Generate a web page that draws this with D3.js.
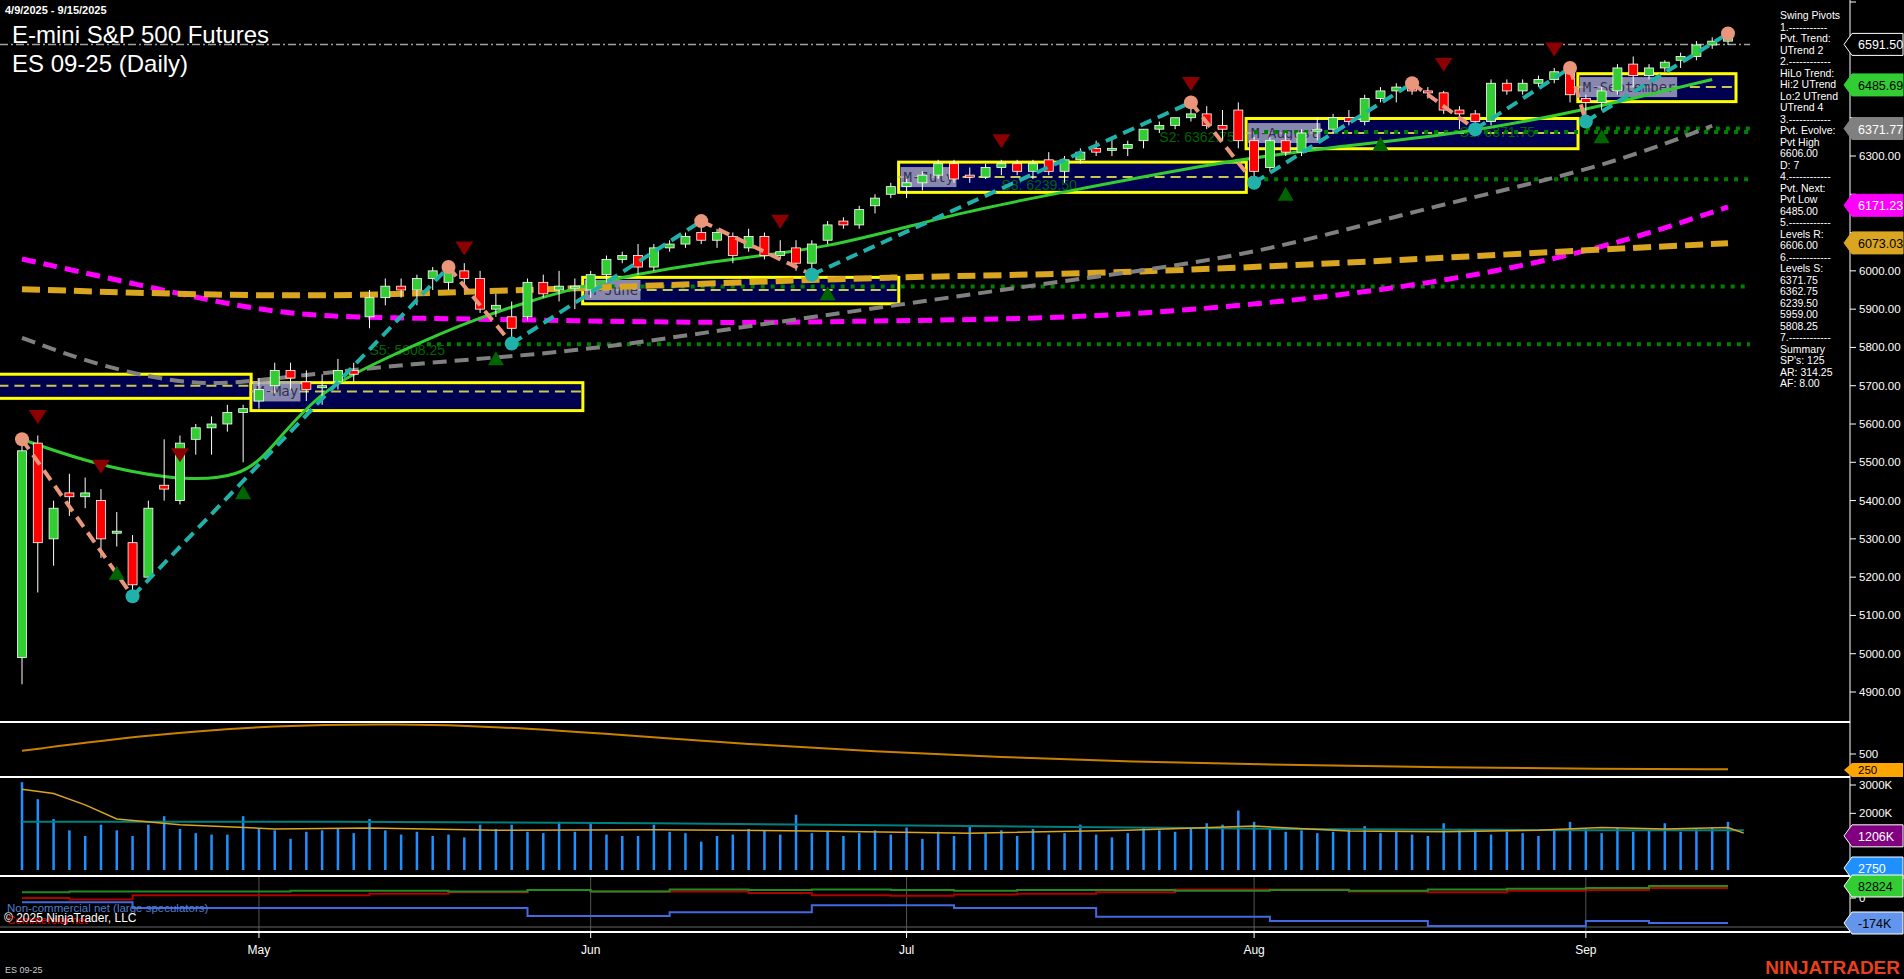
<!DOCTYPE html>
<html><head><meta charset="utf-8">
<script src="https://cdn.jsdelivr.net/npm/d3@7"></script>
<style>body{margin:0;background:#000;overflow:hidden}svg{display:block;font-family:"Liberation Sans",Arial,sans-serif}</style>
</head><body><div id="chart"></div>
<script>
// daily bars 4/9/2025 - 9/15/2025  [date, open, high, low, close]
const bars = [
["04-09",4990,5560,4920,5530],["04-10",5550,5570,5160,5290],["04-11",5300,5400,5230,5380],["04-14",5420,5470,5360,5410],
["04-15",5410,5460,5380,5420],["04-16",5400,5430,5250,5300],["04-17",5320,5370,5280,5320],["04-21",5290,5310,5150,5180],
["04-22",5200,5400,5190,5380],["04-23",5440,5560,5400,5430],["04-24",5400,5570,5390,5550],["04-25",5560,5600,5520,5590],
["04-28",5590,5620,5520,5600],["04-29",5600,5650,5580,5630],["04-30",5630,5650,5500,5640],
["05-01",5660,5720,5640,5690],["05-02",5700,5760,5680,5740],["05-05",5740,5760,5690,5720],["05-06",5710,5740,5660,5690],
["05-07",5700,5730,5650,5700],["05-08",5710,5770,5690,5740],["05-09",5740,5760,5710,5730],["05-12",5880,5950,5850,5930],
["05-13",5930,5980,5910,5960],["05-14",5960,5980,5930,5950],["05-15",5950,5990,5910,5980],["05-16",5980,6010,5950,6000],
["05-19",5970,6010,5950,6000],["05-20",6000,6020,5960,5980],["05-21",5980,6000,5890,5900],["05-22",5900,5940,5880,5910],
["05-23",5880,5920,5810,5850],["05-27",5880,5980,5870,5970],["05-28",5970,5990,5930,5940],["05-29",5950,6000,5920,5960],
["05-30",5960,5980,5900,5960],
["06-02",5950,6000,5930,5990],["06-03",5990,6040,5970,6030],["06-04",6030,6050,6020,6040],["06-05",6040,6070,5990,6010],
["06-06",6010,6070,6000,6060],["06-09",6060,6080,6050,6070],["06-10",6070,6100,6060,6090],["06-11",6100,6130,6070,6080],
["06-12",6080,6110,6060,6100],["06-13",6090,6100,6020,6040],["06-16",6060,6110,6050,6090],["06-17",6090,6100,6030,6040],
["06-18",6040,6080,6030,6050],["06-20",6060,6080,6000,6020],["06-23",6020,6080,5990,6070],["06-24",6080,6130,6070,6120],
["06-25",6130,6140,6110,6120],["06-26",6120,6170,6110,6160],["06-27",6170,6200,6150,6190],["06-30",6200,6230,6190,6220],
["07-01",6220,6240,6190,6230],["07-02",6230,6260,6210,6250],["07-03",6250,6290,6240,6280],["07-07",6280,6290,6230,6240],
["07-08",6250,6270,6230,6245],["07-09",6245,6280,6240,6270],["07-10",6270,6290,6250,6280],["07-11",6280,6290,6250,6260],
["07-14",6260,6290,6240,6280],["07-15",6290,6310,6250,6260],["07-16",6260,6300,6230,6290],["07-17",6290,6320,6280,6310],
["07-18",6320,6340,6300,6310],["07-21",6320,6350,6300,6320],["07-22",6320,6340,6300,6330],["07-23",6340,6370,6320,6370],
["07-24",6370,6390,6360,6380],["07-25",6380,6400,6370,6400],["07-28",6400,6440,6390,6410],["07-29",6410,6430,6370,6380],
["07-30",6380,6420,6340,6370],["07-31",6420,6440,6320,6340],
["08-01",6340,6350,6230,6260],["08-04",6270,6350,6260,6340],["08-05",6340,6360,6300,6310],["08-06",6310,6370,6300,6360],
["08-07",6370,6400,6340,6370],["08-08",6370,6410,6360,6400],["08-11",6400,6420,6380,6390],["08-12",6390,6460,6380,6450],
["08-13",6450,6480,6440,6470],["08-14",6470,6490,6440,6480],["08-15",6480,6490,6460,6470],["08-18",6470,6480,6450,6465],
["08-19",6465,6470,6410,6420],["08-20",6420,6430,6370,6410],["08-21",6410,6420,6380,6390],["08-22",6390,6500,6380,6490],
["08-25",6490,6500,6460,6470],["08-26",6470,6500,6460,6490],["08-27",6490,6510,6480,6500],["08-28",6500,6530,6490,6520],
["08-29",6520,6530,6440,6460],
["09-02",6450,6460,6390,6440],["09-03",6440,6480,6420,6470],["09-04",6470,6540,6460,6530],["09-05",6540,6560,6480,6510],
["09-08",6510,6540,6500,6530],["09-09",6530,6550,6520,6545],["09-10",6550,6570,6530,6560],["09-11",6560,6600,6550,6590],
["09-12",6590,6610,6580,6600],["09-15",6600,6620,6590,6610]
];
// volume (K)
const volume = [3100,2500,1800,1400,1200,1600,1400,1200,1600,1900,1450,1300,1250,1250,1900,1450,1400,1100,1350,1400,
1450,1300,1800,1400,1250,1350,1200,1250,1150,1600,1450,1600,1350,1300,1700,1350,1650,1250,1200,1200,1600,1350,1300,1000,
1200,1250,1450,1400,1250,1950,1300,1350,1200,1300,1400,1250,1500,1100,1350,1200,1550,1300,1400,1200,1450,1250,1300,1600,
1250,1150,1300,1500,1400,1350,1500,1650,1600,2100,1700,1450,1350,1400,1300,1350,1450,1550,1300,1350,1250,1200,1650,
1450,1450,1250,1350,1300,1200,1400,1700,1450,1300,1500,1350,1400,1650,1350,1450,1500,1700];
const volAvgIdx = [0,2,4,6,10,16,22,30,40,50,60,70,78,84,90,96,100,104,108,109];
const volAvg    = [2850,2700,2300,1800,1600,1450,1480,1400,1420,1380,1300,1400,1550,1380,1350,1400,1500,1450,1500,1300];
const volLongIdx = [0,20,40,60,80,100,109];
const volLong    = [1700,1700,1650,1550,1450,1400,1400];
// panel 2 (orange)
const p2Idx = [0,8,16,24,30,38,46,54,62,70,80,90,100,108];
const p2Val = [550,800,950,970,930,800,650,540,450,380,330,290,265,260];
// moving averages (bar index, price)
const greenIdx = [0,4,9,14,16,19,23,28,35,43,51,59,67,75,83,91,99,107];
const greenMA  = [5560,5502,5455,5455,5549,5692,5771,5866,5961,6024,6056,6151,6214,6278,6325,6357,6420,6500];
const grayIdx = [0,5,11,15,25,35,45,56,67,78,89,100,107];
const grayMA  = [5825,5749,5698,5714,5760,5787,5850,5914,5980,6040,6167,6268,6379];
const magIdx = [0,11,17,25,35,45,55,67,79,90,100,108];
const magMA  = [6031,5930,5882,5876,5870,5863,5870,5876,5914,5970,6056,6167];
const orgIdx = [0,17,28,40,55,70,90,100,108];
const orgMA  = [5952,5930,5945,5961,5985,5993,6034,6056,6072];
// swing pivots (bar index, price)
const pivIdx = [0,7,27,31,43,50,74,78,88,92,98,99,108];
const pivVal = [5560,5150,6010,5810,6130,5990,6440,6230,6490,6370,6530,6390,6620];
// monthly value areas [firstIdx, lastIdx, high, low, mid, label]
const months = [[-2,14,5730,5667,5700,""],[15,35,5708,5635,5685,"M-May"],[36,55,5983,5914,5950,"M-June"],
[56,77,6284,6205,6245,"M-July"],[78,98,6398,6319,6360,"M-August"],[99,108,6515,6442,6480,"M-September"]];
// support levels
const levels = [6371.75,6362.75,6239.5,5959,5808.25];
const levelStart = [99,78,78,36,25];
const levelLbl = [["S1: 6371.75",91,6350],["S2: 6362.75",72,6336],["S3: 6239.50",62,6212],["S5: 5808.25",22,5780]];
// COT weekly
const cotIdx = [0,3,7,12,17,22,27,32,36,41,46,50,55,59,63,68,73,79,84,89,94,99,103,108];
const cotGreen = [40,45,45,45,50,50,45,55,45,60,55,60,55,50,55,55,50,55,50,60,65,70,82.8,82.8];
const cotRed = [0,-10,20,20,20,30,40,55,45,45,35,20,15,25,30,40,60,60,45,40,50,55,70,70];
const cotBlue = [-30,-30,-70,-70,-70,-70,-70,-125,-125,-100,-100,-50,-50,-70,-70,-130,-130,-160,-160,-195,-195,-160,-174,-174];
const monthTicks = [[15,"May"],[36,"Jun"],[56,"Jul"],[78,"Aug"],[99,"Sep"]];
const pivotText = ["Swing Pivots","1.-----------","Pvt. Trend:","UTrend 2","2.------------","HiLo Trend:","Hi:2 UTrend",
"Lo:2 UTrend","UTrend 4","3.------------","Pvt. Evolve:","Pvt High","6606.00","D: 7","4.------------","Pvt. Next:",
"Pvt Low","6485.00","5.------------","Levels R:","6606.00","6.------------","Levels S:","6371.75","6362.75","6239.50",
"5959.00","5808.25","7.------------","Summary","SP's: 125","AR: 314.25","AF: 8.00"];
const priceTags = [[6591.5,"6591.50","#000","#fff","#fff"],[6485.69,"6485.69","#32cd32","#000","#32cd32"],
[6371.77,"6371.77","#808080","#fff","#808080"],[6171.23,"6171.23","#ff00ff","#fff","#ff00ff"],[6073.03,"6073.03","#daa520","#000","#daa520"]];

const W = 1904, H = 979, AX = 1850, FS = 11.5;
const svg = d3.select("#chart").append("svg").attr("width", W).attr("height", H);
const x = d3.scaleLinear().domain([0,108]).range([22,1728]);
const y = d3.scaleLinear().domain([4900,6300]).range([692,156]);
svg.append("clipPath").attr("id","pc").append("rect").attr("x",0).attr("y",0).attr("width",AX).attr("height",720);
const g = svg.append("g").attr("clip-path","url(#pc)");

// monthly boxes
months.forEach(m => {
  const x0 = x(m[0]) - 8, x1 = x(m[1]) + 8;
  g.append("rect").attr("x",x0).attr("y",y(m[2])).attr("width",x1-x0).attr("height",y(m[3])-y(m[2]))
    .attr("fill","#000050").attr("stroke","#ffff00").attr("stroke-width",3);
  g.append("line").attr("x1",x0).attr("x2",x1).attr("y1",y(m[4])).attr("y2",y(m[4]))
    .attr("stroke","#c8c850").attr("stroke-width",2).attr("stroke-dasharray","10,6");
  if (m[5]) {
    g.append("rect").attr("x",x0+2).attr("y",y(m[4])-10).attr("width",m[5].length*8.3+6).attr("height",20).attr("fill","#a0a0c0").attr("opacity",0.85);
    g.append("text").attr("x",x0+5).attr("y",y(m[4])+5).attr("font-family","DejaVu Sans Mono").attr("font-size",14)
      .attr("fill","#303050").text(m[5]);
  }
});
// support levels
levels.forEach((v,i) => g.append("line").attr("x1",x(levelStart[i])).attr("x2",1750).attr("y1",y(v)).attr("y2",y(v))
  .attr("stroke","#008000").attr("stroke-width",4).attr("stroke-dasharray","4,6"));
levelLbl.forEach(l => g.append("text").attr("x",x(l[1])).attr("y",y(l[2])).attr("fill","#006400").attr("font-size",14).text(l[0]));
// top dash-dot
g.append("line").attr("x1",0).attr("x2",1750).attr("y1",y(6591.5)).attr("y2",y(6591.5))
  .attr("stroke","#a0a0a0").attr("stroke-width",1.5).attr("stroke-dasharray","8,3,2,3");

const line = (ix, vals) => d3.line().curve(d3.curveBasis).x((d,i)=>x(ix[i])).y(d=>y(d))(vals);
g.append("path").attr("d",line(magIdx,magMA)).attr("fill","none").attr("stroke","#ff00ff").attr("stroke-width",5).attr("stroke-dasharray","14,8");
g.append("path").attr("d",line(orgIdx,orgMA)).attr("fill","none").attr("stroke","#daa520").attr("stroke-width",6).attr("stroke-dasharray","18,8");
g.append("path").attr("d",line(grayIdx,grayMA)).attr("fill","none").attr("stroke","#808080").attr("stroke-width",4).attr("stroke-dasharray","14,8");
g.append("path").attr("d",line(greenIdx,greenMA)).attr("fill","none").attr("stroke","#32cd32").attr("stroke-width",3);

// candles
const cg = g.append("g");
bars.forEach((b,i) => {
  const up = b[4] >= b[1];
  cg.append("line").attr("x1",x(i)).attr("x2",x(i)).attr("y1",y(b[2])).attr("y2",y(b[3])).attr("stroke","#fff").attr("stroke-width",1);
  const top = y(Math.max(b[1],b[4])), bot = y(Math.min(b[1],b[4]));
  cg.append("rect").attr("x",x(i)-4.5).attr("y",top).attr("width",9).attr("height",Math.max(2,bot-top))
    .attr("fill",up?"#32cd32":"#ff0000").attr("stroke","#fff").attr("stroke-width",0.8);
});
// swing zigzag
for (let k=0;k<pivIdx.length-1;k++) {
  const down = pivVal[k+1] < pivVal[k];
  g.append("line").attr("x1",x(pivIdx[k])).attr("y1",y(pivVal[k])).attr("x2",x(pivIdx[k+1])).attr("y2",y(pivVal[k+1]))
    .attr("stroke",down?"#e9967a":"#20b2aa").attr("stroke-width",4).attr("stroke-dasharray","12,7");
}
pivIdx.forEach((p,k) => {
  const hi = k===0 || pivVal[k] > pivVal[k-1];
  g.append("circle").attr("cx",x(p)).attr("cy",y(pivVal[k])).attr("r",7).attr("fill",hi?"#e9967a":"#20b2aa");
});
// signal triangles (bar index, price, first 9 down)
const sigIdx = [1,5,10,28,48,62,74,90,97,6,14,30,51,80,86,100];
const sigVal = [5600,5470,5500,6040,6110,6320,6470,6520,6560,5230,5440,5790,5960,6220,6350,6370];
sigIdx.forEach((p,k) => {
  const up = k >= 9, cx = x(p), cy = y(sigVal[k]);
  const pts = up ? [[cx-8,cy+14],[cx+8,cy+14],[cx,cy]] : [[cx-9,cy-14],[cx+9,cy-14],[cx,cy]];
  g.append("path").attr("d",d3.line()(pts)+"Z").attr("fill",up?"#006400":"#8b0000");
});

// right axis
svg.append("line").attr("x1",AX).attr("x2",AX).attr("y1",0).attr("y2",932).attr("stroke","#fff");
d3.range(4900,6600,100).forEach(t => {
  svg.append("line").attr("x1",AX).attr("x2",AX+6).attr("y1",y(t)).attr("y2",y(t)).attr("stroke","#fff");
  if (priceTags.some(p => Math.abs(y(p[0]) - y(t)) < 16)) return;
  svg.append("text").attr("x",AX+9).attr("y",y(t)+4).attr("fill","#fff").attr("font-size",FS).text(t.toFixed(2));
});
svg.append("line").attr("x1",AX).attr("x2",AX+6).attr("y1",2).attr("y2",2).attr("stroke","#fff");
const tag = (yy, txt, fill, col, stroke) => {
  svg.append("path").attr("d",`M${AX-6},${yy} L${AX+2},${yy-11} L1903,${yy-11} L1903,${yy+11} L${AX+2},${yy+11} Z`)
    .attr("fill",fill).attr("stroke",stroke);
  svg.append("text").attr("x",AX+8).attr("y",yy+5).attr("fill",col).attr("font-size",12.5).text(txt);
};
priceTags.forEach(p => tag(y(p[0]), p[1], p[2], p[3], p[4]));
pivotText.forEach((t,i) => svg.append("text").attr("x",1780).attr("y",19+i*11.5).attr("fill","#fff").attr("font-size",10.5).text(t));

// titles
svg.append("text").attr("x",5).attr("y",14).attr("fill","#fff").attr("font-size",11).attr("font-weight","bold").text("4/9/2025 - 9/15/2025");
svg.append("text").attr("x",12).attr("y",43).attr("fill","#fff").attr("font-size",24).text("E-mini S&P 500 Futures");
svg.append("text").attr("x",12).attr("y",72).attr("fill","#fff").attr("font-size",24).text("ES 09-25 (Daily)");

// panel separators
[722,777,876,932].forEach(v => svg.append("line").attr("x1",0).attr("x2",AX).attr("y1",v).attr("y2",v).attr("stroke","#fff").attr("stroke-width",2));

// panel 2
const y2 = d3.scaleLinear().domain([250,500]).range([770,754]);
svg.append("path").attr("d",d3.line().curve(d3.curveBasis).x((d,i)=>x(p2Idx[i])).y(d=>y2(d))(p2Val))
  .attr("fill","none").attr("stroke","#cc8000").attr("stroke-width",2);
svg.append("text").attr("x",AX+9).attr("y",758).attr("fill","#fff").attr("font-size",FS).text("500");
svg.append("line").attr("x1",AX).attr("x2",AX+6).attr("y1",754).attr("y2",754).attr("stroke","#fff");
svg.append("path").attr("d",`M${AX-6},770 L${AX+2},763 L1903,763 L1903,777 L${AX+2},777 Z`).attr("fill","#ffa500");
svg.append("text").attr("x",AX+8).attr("y",774).attr("fill","#000").attr("font-size",FS).text("250");

// volume panel
const yv = d3.scaleLinear().domain([0,3000]).range([870,785]);
volume.forEach((v,i) => svg.append("line").attr("x1",x(i)).attr("x2",x(i)).attr("y1",yv(0)).attr("y2",yv(v)).attr("stroke","#1e90ff").attr("stroke-width",2.5));
svg.append("path").attr("d",d3.line().x((d,i)=>x(volLongIdx[i])).y(d=>yv(d))(volLong)).attr("fill","none").attr("stroke","#008080").attr("stroke-width",2);
svg.append("path").attr("d",d3.line().x((d,i)=>x(volAvgIdx[i])).y(d=>yv(d))(volAvg)).attr("fill","none").attr("stroke","#daa520").attr("stroke-width",1.5);
[[3000,"3000K"],[2000,"2000K"]].forEach(t => {
  svg.append("line").attr("x1",AX).attr("x2",AX+6).attr("y1",yv(t[0])).attr("y2",yv(t[0])).attr("stroke","#fff");
  svg.append("text").attr("x",AX+9).attr("y",yv(t[0])+4).attr("fill","#fff").attr("font-size",FS).text(t[1]);
});
tag(yv(1206), "1206K", "#800080", "#fff", "#fff");
tag(868, "2750", "#1e90ff", "#fff", "#fff");

// COT panel
const yc = d3.scaleLinear().domain([-174,0]).range([923,898]);
monthTicks.forEach(m => {
  svg.append("line").attr("x1",x(m[0])).attr("x2",x(m[0])).attr("y1",877).attr("y2",931).attr("stroke","#555");
  svg.append("line").attr("x1",x(m[0])).attr("x2",x(m[0])).attr("y1",932).attr("y2",938).attr("stroke","#fff");
  svg.append("text").attr("x",x(m[0])).attr("y",954).attr("text-anchor","middle").attr("fill","#fff").attr("font-size",12).text(m[1]);
});
svg.append("line").attr("x1",0).attr("x2",AX).attr("y1",927).attr("y2",927).attr("stroke","#666");
const step = vals => d3.line().curve(d3.curveStepAfter).x((d,i)=>x(cotIdx[i])).y(d=>yc(d))(vals);
svg.append("path").attr("d",step(cotBlue)).attr("fill","none").attr("stroke","#4169e1").attr("stroke-width",2);
svg.append("path").attr("d",step(cotRed)).attr("fill","none").attr("stroke","#b00000").attr("stroke-width",2);
svg.append("path").attr("d",step(cotGreen)).attr("fill","none").attr("stroke","#228b22").attr("stroke-width",2);
svg.append("text").attr("x",AX+9).attr("y",yc(0)+4).attr("fill","#fff").attr("font-size",FS).text("0");
svg.append("line").attr("x1",AX).attr("x2",AX+6).attr("y1",yc(0)).attr("y2",yc(0)).attr("stroke","#fff");
tag(886, "82824", "#32cd32", "#000", "#fff");
tag(yc(-174), "-174K", "#6495ed", "#000", "#fff");
svg.append("text").attr("x",7).attr("y",912).attr("fill","#4f7fd0").attr("font-size",11.5).text("Non-commercial net (large speculators)");
svg.append("text").attr("x",7).attr("y",924).attr("fill","#e00000").attr("font-size",11.5).text("Commercial net");
svg.append("text").attr("x",4).attr("y",922).attr("fill","#fff").attr("font-size",12).text("© 2025 NinjaTrader, LLC");

svg.append("text").attr("x",5).attr("y",973).attr("fill","#ccc").attr("font-size",9).text("ES 09-25");
svg.append("text").attr("x",1900).attr("y",974).attr("text-anchor","end").attr("fill","#e8401c").attr("font-size",19)
  .attr("font-weight","bold").text("NINJATRADER");
</script></body></html>
